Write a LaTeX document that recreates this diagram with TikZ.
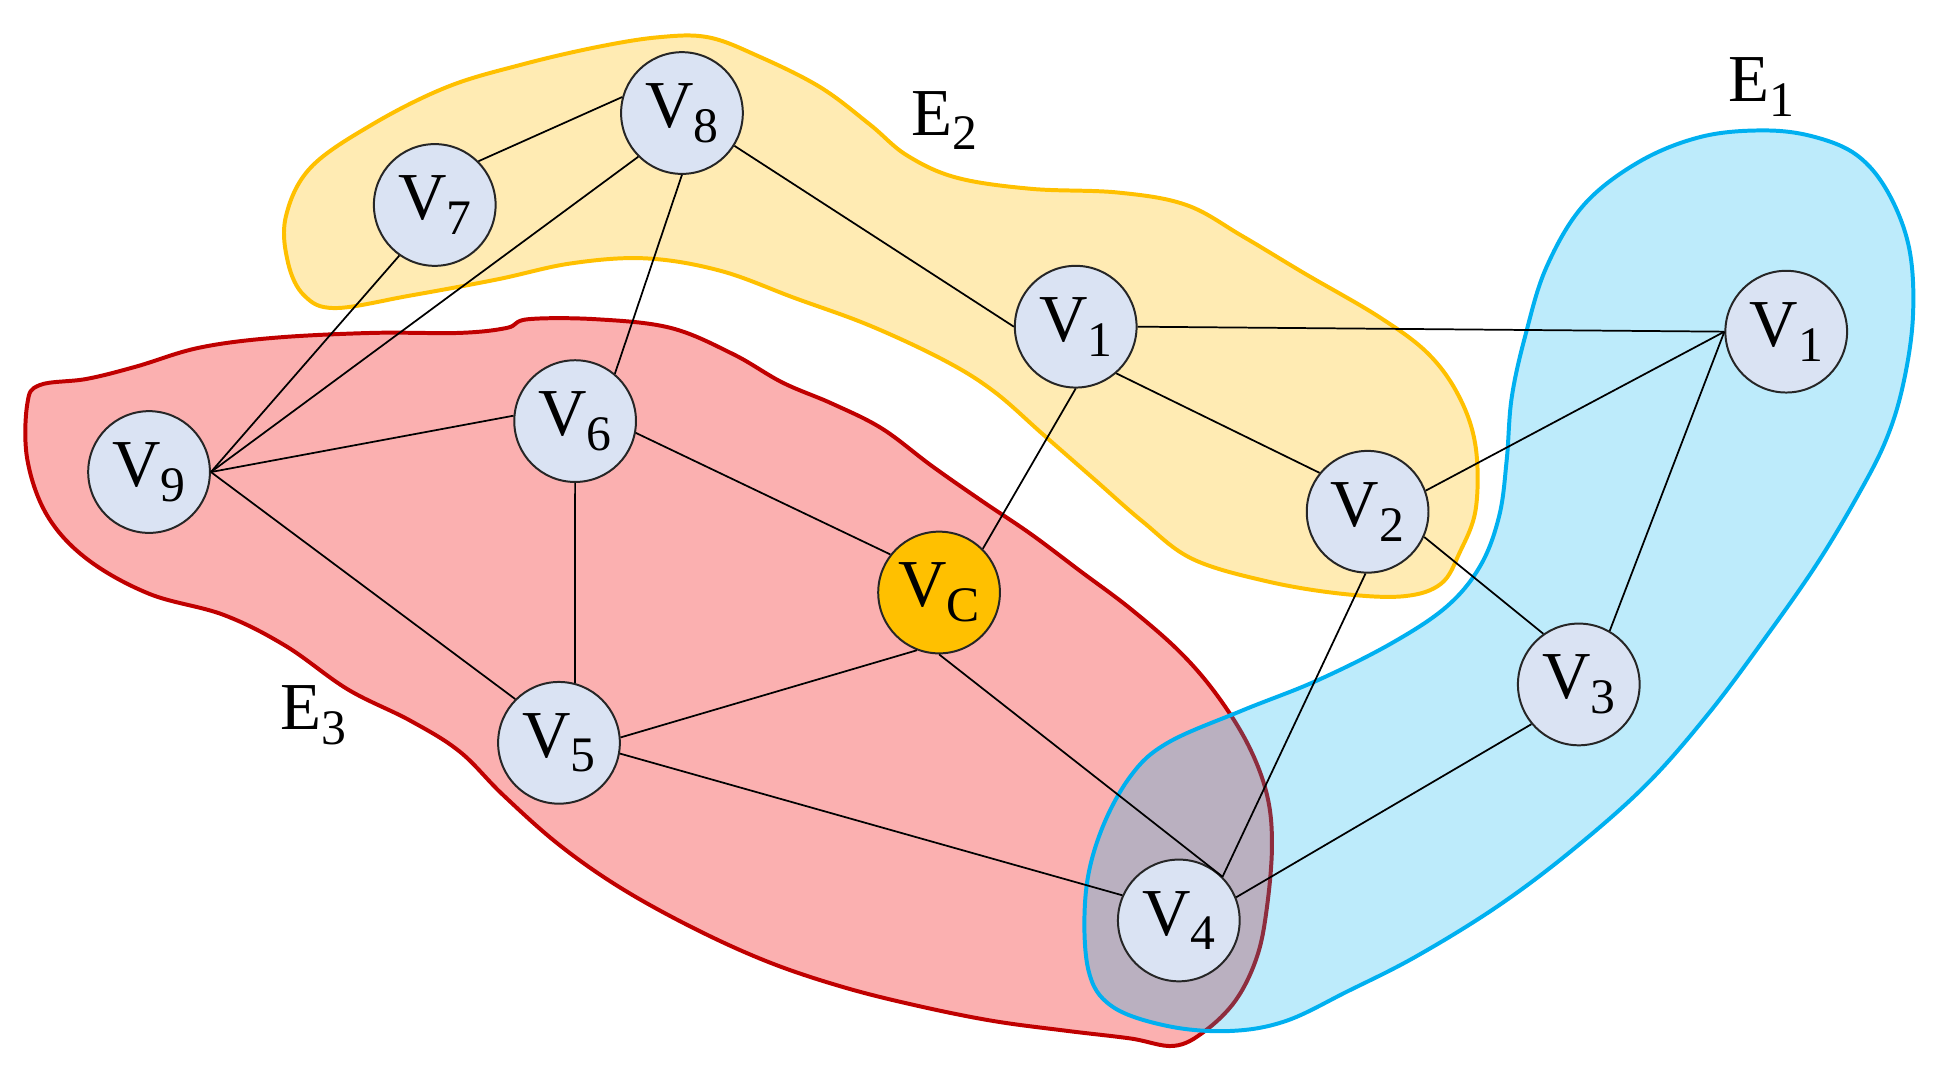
\documentclass[tikz,border=0pt]{standalone}
\usepackage{fontspec}
\setmainfont{Liberation Serif}
\definecolor{nodefill}{HTML}{DAE3F3}
\definecolor{vcfill}{HTML}{FFC000}
\definecolor{yfill}{HTML}{FFEBB3}
\definecolor{yline}{HTML}{FFC000}
\definecolor{rfill}{HTML}{FBB0B0}
\definecolor{rline}{HTML}{C00000}
\definecolor{bline}{HTML}{00B0F0}
\newcommand\vlab[2]{#1\raisebox{-0.22em}{\fontsize{20}{20}\selectfont #2}}
\begin{document}
\begin{tikzpicture}[x=0.5pt,y=-0.5pt,
  vnode/.style={circle, draw=black!85, line width=0.8pt, fill=nodefill, minimum size=49pt, inner sep=0pt, font=\fontsize{27}{27}\selectfont},
  edge/.style={line width=0.7pt, black},
  hlab/.style={font=\fontsize{27}{27}\selectfont, inner sep=0pt},
  hyper/.style={line width=1.6pt, line join=round}]
\useasboundingbox (0,0) rectangle (1561,868);
% yellow hyperedge E2
\draw[hyper, draw=yline, fill=yfill] plot[smooth cycle, tension=0.6] coordinates {
(230,175) (250,135) (300,100) (360,70) (420,52) (480,38) (530,30) (570,30) (610,45) (660,70) (700,100) (730,125) (770,143) (830,152) (900,155) (955,165) (1000,190) (1050,220) (1110,255) (1150,285) (1175,320) (1188,360) (1188,410) (1175,445) (1160,470) (1130,480) (1080,478) (1020,468) (960,450) (920,420) (880,385) (840,350) (800,315) (760,290) (700,262) (640,240) (580,218) (520,208) (460,212) (400,225) (330,238) (270,248) (245,238) (232,212)};
% red hyperedge E3
\draw[hyper, draw=rline, fill=rfill] plot[smooth cycle, tension=0.6] coordinates {
(32,310) (70,305) (110,295) (160,280) (220,272) (300,268) (370,268) (408,264) (425,257) (480,257) (540,264) (590,285) (630,308) (670,325) (710,345) (750,375) (790,403) (830,430) (870,460) (910,490) (950,525) (980,560) (1005,600) (1020,640) (1024,680) (1020,730) (1012,770) (995,805) (970,830) (945,842) (910,836) (860,830) (800,822) (740,810) (680,795) (620,775) (560,748) (500,715) (450,680) (405,640) (370,605) (330,580) (280,555) (230,520) (180,495) (120,478) (70,450) (38,415) (22,370) (22,325)};
% blue hyperedge E1
\fill[bline, fill opacity=0.26] plot[smooth cycle, tension=0.6] coordinates {
(1420,105) (1460,110) (1495,125) (1520,155) (1537,200) (1540,255) (1532,310) (1518,355) (1495,400) (1462,455) (1420,515) (1375,575) (1325,632) (1265,685) (1205,730) (1140,770) (1085,798) (1035,822) (990,830) (940,826) (895,810) (876,780) (874,720) (886,670) (910,625) (940,598) (1000,572) (1060,548) (1120,518) (1165,488) (1192,455) (1207,415) (1213,370) (1217,320) (1228,270) (1245,215) (1275,165) (1320,130) (1370,110)};
\draw[hyper, draw=bline] plot[smooth cycle, tension=0.6] coordinates {
(1420,105) (1460,110) (1495,125) (1520,155) (1537,200) (1540,255) (1532,310) (1518,355) (1495,400) (1462,455) (1420,515) (1375,575) (1325,632) (1265,685) (1205,730) (1140,770) (1085,798) (1035,822) (990,830) (940,826) (895,810) (876,780) (874,720) (886,670) (910,625) (940,598) (1000,572) (1060,548) (1120,518) (1165,488) (1192,455) (1207,415) (1213,370) (1217,320) (1228,270) (1245,215) (1275,165) (1320,130) (1370,110)};
% labels
\node[hlab] (e1) at (1418,70) {\vlab{E}{1}};
\node[hlab] (e2) at (760,97) {\vlab{E}{2}};
\node[hlab] (e3) at (252,576) {\vlab{E}{3}};
% nodes
\node[vnode] (v8) at (549,91) {\vlab{V}{8}};
\node[vnode] (v7) at (350,165) {\vlab{V}{7}};
\node[vnode] (v1m) at (866,263) {\vlab{V}{1}};
\node[vnode] (v1r) at (1438,267) {\vlab{V}{1}};
\node[vnode] (v9) at (120,380) {\vlab{V}{9}};
\node[vnode] (v6) at (463,339) {\vlab{V}{6}};
\node[vnode] (v2) at (1101,412) {\vlab{V}{2}};
\node[vnode, fill=vcfill] (vc) at (756,477) {\vlab{V}{C}};
\node[vnode] (v3) at (1271,551) {\vlab{V}{3}};
\node[vnode] (v5) at (450,598) {\vlab{V}{5}};
\node[vnode] (v4) at (949,741) {\vlab{V}{4}};
% edges
\draw[edge] (v7.45) -- (v8.165);
\draw[edge] (v7.235) -- (v9.east);
\draw[edge] (v8.225) -- (v9.east);
\draw[edge] (v8.south) -- (v6.50);
\draw[edge] (v8.-32) -- (v1m.west);
\draw[edge] (v1m.east) -- (v1r.west);
\draw[edge] (v1m.-49) -- (v2.141);
\draw[edge] (v1m.south) -- (vc.45);
\draw[edge] (v9.east) -- (v6.175);
\draw[edge] (v9.east) -- (v5.135);
\draw[edge] (v6.south) -- (v5.75);
\draw[edge] (v6.-11) -- (vc.142);
\draw[edge] (vc.249) -- (v5.5);
\draw[edge] (vc.south) -- (v4.45);
\draw[edge] (v5.-10) -- (v4.156);
\draw[edge] (v2.20) -- (v1r.west);
\draw[edge] (v2.-24) -- (v3.125);
\draw[edge] (v2.268) -- (v4.45);
\draw[edge] (v3.60) -- (v1r.west);
\draw[edge] (v3.220) -- (v4.22);
\end{tikzpicture}
\end{document}
